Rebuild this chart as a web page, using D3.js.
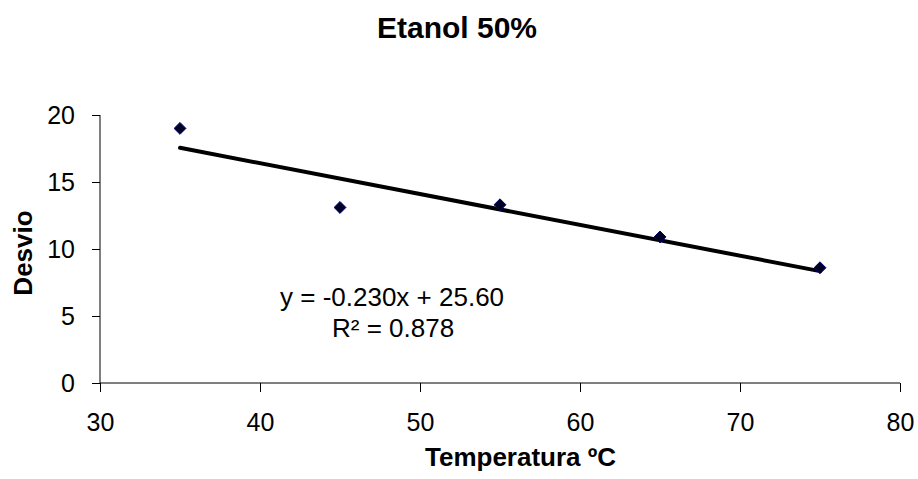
<!DOCTYPE html>
<html>
<head>
<meta charset="utf-8">
<script src="https://cdn.jsdelivr.net/npm/d3@7"></script>
<style>
  html, body { margin: 0; padding: 0; background: #fff; }
  text { font-family: "Liberation Sans", Arial, sans-serif; fill: #000; }
</style>
</head>
<body>
<svg id="chart" width="918" height="479"></svg>
<script>
// ---- data ----
const temperatures = [35, 45, 55, 65, 75];
const desvio = [19.0, 13.1, 13.3, 10.9, 8.6];
const xTicks = [30, 40, 50, 60, 70, 80];
const yTicks = [0, 5, 10, 15, 20];
const trendSlope = -0.230;
const trendIntercept = 25.60;
const equationLabel = "y = -0.230x + 25.60";
const r2Label = "R\u00B2 = 0.878";
const chartTitle = "Etanol 50%";
const xTitle = "Temperatura \u00BAC";
const yTitle = "Desvio";

// ---- layout ----
const svg = d3.select("#chart");
const x = d3.scaleLinear().domain([30, 80]).range([100, 900]);
const y = d3.scaleLinear().domain([0, 20]).range([383, 115]);
const FONT = "'Liberation Sans', Arial, sans-serif";

// axes
const xAxis = d3.axisBottom(x).tickValues(xTicks).tickSize(9).tickPadding(21).tickFormat(d3.format("d"));
const yAxis = d3.axisLeft(y).tickValues(yTicks).tickSize(8).tickPadding(17).tickFormat(d3.format("d"));

const gx = svg.append("g").attr("transform", `translate(0,${y(0)})`).call(xAxis);
const gy = svg.append("g").attr("transform", `translate(${x(30)},0)`).call(yAxis);
[gx, gy].forEach(g => {
  g.select(".domain").attr("stroke", "#000").attr("stroke-width", 1);
  g.selectAll(".tick line").attr("stroke", "#000").attr("stroke-width", 1);
  g.selectAll(".tick text").style("font-family", FONT)
    .style("font-size", "25px").attr("fill", "#000");
});
gx.select(".domain").attr("d", `M${x(30)},0H${x(80)}`);
gy.select(".domain").attr("d", `M0,${y(0)}V${y(20)}`);

// trendline
const tl = [35, 75].map(t => [x(t), y(trendIntercept + trendSlope * t)]);
svg.append("line")
  .attr("x1", tl[0][0]).attr("y1", tl[0][1])
  .attr("x2", tl[1][0]).attr("y2", tl[1][1])
  .attr("stroke", "#000").attr("stroke-width", 4).attr("stroke-linecap", "round");

// markers
const diamond = d3.symbol().type(d3.symbolDiamond2).size(90);
svg.append("g").selectAll("path")
  .data(temperatures.map((t, i) => [t, desvio[i]]))
  .join("path")
  .attr("d", diamond)
  .attr("transform", d => `translate(${x(d[0])},${y(d[1])})`)
  .attr("fill", "#000020")
  .attr("stroke", "#000080")
  .attr("stroke-width", 1);

// equation text
svg.append("text").attr("x", 280).attr("y", 306)
  .style("font-size", "26px").text(equationLabel);
svg.append("text").attr("x", 332).attr("y", 337)
  .style("font-size", "26px").text(r2Label);

// titles
svg.append("text").attr("x", 377).attr("y", 38)
  .style("font-size", "30px").style("font-weight", "bold").text(chartTitle);
svg.append("text").attr("x", 425).attr("y", 466)
  .style("font-size", "26px").style("font-weight", "bold").text(xTitle);
svg.append("text").attr("transform", `translate(32,253) rotate(-90)`).attr("text-anchor", "middle")
  .style("font-size", "26px").style("font-weight", "bold").text(yTitle);
</script>
</body>
</html>
